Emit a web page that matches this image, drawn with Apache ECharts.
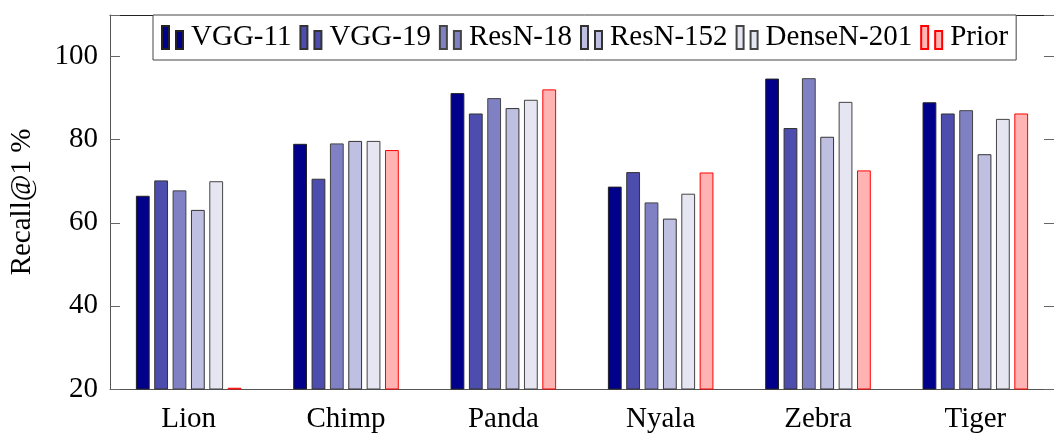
<!DOCTYPE html>
<html>
<head>
<meta charset="utf-8">
<script src="https://cdn.jsdelivr.net/npm/echarts@6/dist/echarts.min.js"></script>
<style>
html,body{margin:0;padding:0;background:#fff;}
#chart{width:1054px;height:439px;}
</style>
</head>
<body>
<div id="chart"></div>
<script>
const categories = ['Lion', 'Chimp', 'Panda', 'Nyala', 'Zebra', 'Tiger'];
const seriesNames = ['VGG-11', 'VGG-19', 'ResN-18', 'ResN-152', 'DenseN-201', 'Prior'];
const vgg11    = [66.5, 79.0, 91.2, 68.7, 94.7, 89.0];
const vgg19    = [70.2, 70.6, 86.3, 72.2, 82.8, 86.3];
const resn18   = [67.8, 79.1, 90.0, 64.9, 94.8, 87.1];
const resn152  = [63.1, 79.7, 87.6, 61.0, 80.7, 76.5];
const densen201= [70.0, 79.7, 89.6, 67.0, 89.1, 85.0];
const prior    = [20.3, 77.5, 92.1, 72.1, 72.6, 86.3];
const yTicks = [20, 40, 60, 80, 100];

const values = [vgg11, vgg19, resn18, resn152, densen201, prior];
const fills = ['#00008B', '#4D4DAE', '#8080C5', '#BFBFE2', '#E6E6F3', '#FFB3B3'];
const strokes = ['#222', '#333', '#444', '#333', '#444', '#FF0000'];

const FONT = '"Liberation Serif", "DejaVu Serif", serif';
const FS = 29;
const chart = echarts.init(document.getElementById('chart'));

const icon = 'path://M0,0 L7,0 L7,23 L0,23 Z M14,5 L21,5 L21,23 L14,23 Z';

chart.setOption({
  animation: false,
  backgroundColor: '#fff',
  textStyle: { fontFamily: FONT },
  grid: { left: 106, top: 15, width: 955, height: 374, containLabel: false },
  legend: {
    left: 153, top: 15,
    padding: [8, 8, 8, 8],
    borderColor: '#444', borderWidth: 1, backgroundColor: '#fff',
    itemWidth: 21, itemHeight: 23, itemGap: 8,
    icon: icon,
    data: seriesNames,
    textStyle: { fontFamily: FONT, fontSize: FS, color: '#000', padding: [0, 0, 0, 3] }
  },
  xAxis: [
    {
      type: 'category', data: categories, position: 'bottom',
      axisLine: { lineStyle: { color: '#555', width: 1 } },
      axisTick: { alignWithLabel: true, inside: false, length: 10, lineStyle: { color: '#555' } },
      axisLabel: { fontFamily: FONT, fontSize: FS, color: '#000', margin: 16 },
      splitLine: { show: false }
    },
    {
      type: 'category', data: categories, position: 'top',
      axisLine: { lineStyle: { color: '#222', width: 1 } },
      axisTick: { alignWithLabel: true, inside: false, length: 10, lineStyle: { color: '#555' } },
      axisLabel: { show: false },
      splitLine: { show: false }
    }
  ],
  yAxis: [
    {
      type: 'value', min: 20, max: 110, interval: 20, position: 'left',
      name: 'Recall@1 %', nameLocation: 'middle', nameGap: 73, nameRotate: 90,
      nameTextStyle: { fontFamily: FONT, fontSize: FS, color: '#000' },
      axisLine: { show: true, lineStyle: { color: '#555', width: 1 } },
      axisTick: { show: true, inside: true, length: 10, lineStyle: { color: '#666' } },
      axisLabel: {
        fontFamily: FONT, fontSize: FS, color: '#000', margin: 12,
        formatter: v => (yTicks.indexOf(v) >= 0 ? String(v) : '')
      },
      splitLine: { show: false }
    },
    {
      type: 'value', min: 20, max: 110, interval: 20, position: 'right',
      axisLine: { show: true, lineStyle: { color: '#555', width: 1 } },
      axisTick: { show: true, inside: true, length: 10, lineStyle: { color: '#666' } },
      axisLabel: { show: false },
      splitLine: { show: false }
    }
  ],
  series: seriesNames.map((name, i) => ({
    name: name,
    type: 'bar',
    xAxisIndex: 0, yAxisIndex: 0,
    data: values[i],
    barWidth: 13.8,
    barGap: '33%',
    itemStyle: { color: fills[i], borderColor: strokes[i], borderWidth: 1 },
    emphasis: { disabled: true }
  }))
});
</script>
</body>
</html>
